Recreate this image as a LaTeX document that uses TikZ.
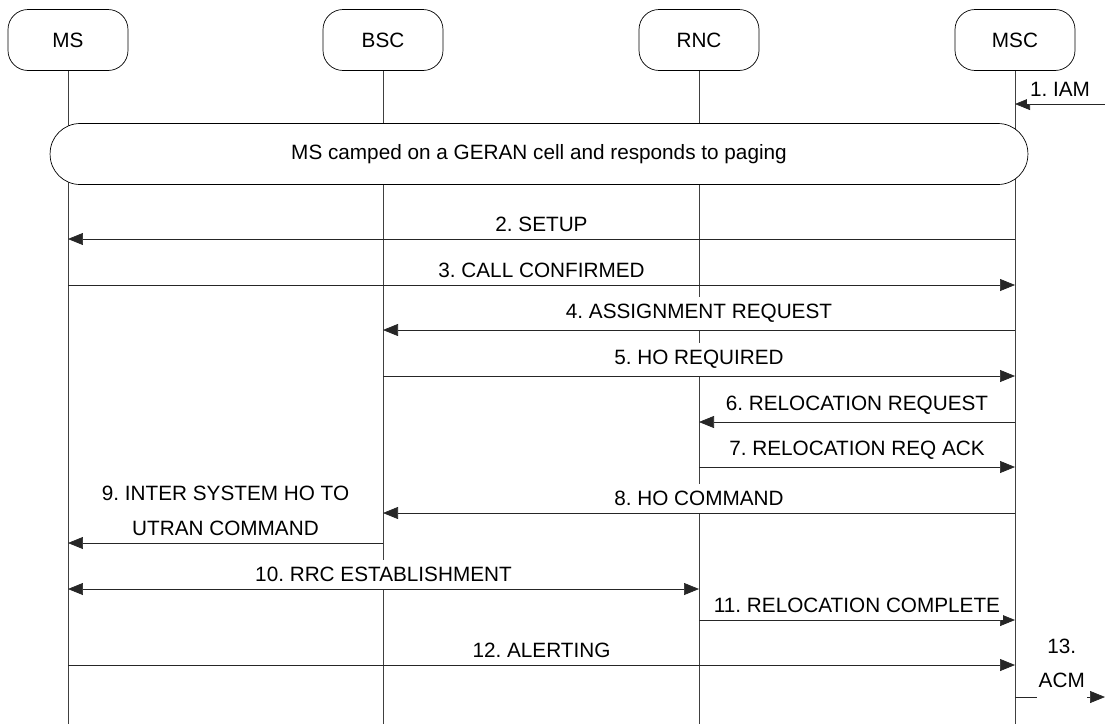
\documentclass[tikz,border=0pt]{standalone}
\usepackage{fontspec}
\setmainfont{Liberation Sans}
\usetikzlibrary{arrows.meta}
\frenchspacing
\tikzstyle{entity} = [rectangle, rounded corners=0.4cm, minimum width=2.4cm, minimum height=1.22cm, text centered, draw=black, fill=white]
\tikzstyle{note} = [rectangle, rounded corners=0.6cm, minimum width=19.56cm, minimum height=1.22cm, text centered, draw=black, fill=white]
\tikzstyle{lifeline} = [draw=black!75]
\tikzstyle{arrow} = [draw=black!85, ->, >={Triangle[length=0.3cm, width=0.24cm]}]
\tikzstyle{msgtext} = [fill=white, inner xsep=1.5pt, inner ysep=4pt, above, align=center, text=black]

\begin{document}
\begin{tikzpicture}[x=0.02cm, y=-0.02cm, font=\fontsize{11.8}{19.6}\selectfont]
\useasboundingbox (0,0) rectangle (1105,724);

%% NODES

\node (ms) [entity] at (68,40) {MS};
\node (bsc) [entity] at (383,40) {BSC};
\node (rnc) [entity] at (699,40) {RNC};
\node (msc) [entity] at (1015,40) {MSC};
\coordinate (bottom) at (0,724);
\coordinate (edge) at (1105,0);

% message rows
\coordinate (m1) at (0,104);
\coordinate (m2) at (0,239);
\coordinate (m3) at (0,285);
\coordinate (m4) at (0,330);
\coordinate (m5) at (0,376);
\coordinate (m6) at (0,422);
\coordinate (m7) at (0,467);
\coordinate (m8) at (0,513);
\coordinate (m9) at (0,543);
\coordinate (m10) at (0,589);
\coordinate (m11) at (0,620);
\coordinate (m12) at (0,665);
\coordinate (m13) at (0,697);

%% LIFELINES

\foreach \n in {ms,bsc,rnc,msc}
  \draw [lifeline] (\n.south) -- (\n.south |- bottom);

\node (camp) [note] at (539,154) {MS camped on a GERAN cell and responds to paging};

%% ARROWS

\draw [arrow] (edge |- m1) -- (msc |- m1) node [msgtext, midway] {1. IAM};
\draw [arrow] (msc |- m2) -- (ms |- m2) node [msgtext, midway] {2. SETUP};
\draw [arrow] (ms |- m3) -- (msc |- m3) node [msgtext, midway] {3. CALL CONFIRMED};
\draw [arrow] (msc |- m4) -- (bsc |- m4) node [msgtext, midway] {4. ASSIGNMENT REQUEST};
\draw [arrow] (bsc |- m5) -- (msc |- m5) node [msgtext, midway] {5. HO REQUIRED};
\draw [arrow] (msc |- m6) -- (rnc |- m6) node [msgtext, midway] {6. RELOCATION REQUEST};
\draw [arrow] (rnc |- m7) -- (msc |- m7) node [msgtext, midway] {7. RELOCATION REQ ACK};
\draw [arrow] (msc |- m8) -- (bsc |- m8) node [msgtext, midway] {8. HO COMMAND};
\draw [arrow] (bsc |- m9) -- (ms |- m9) node [msgtext, midway] {9. INTER SYSTEM HO TO\\UTRAN COMMAND};
\draw [arrow, <->] (ms |- m10) -- (rnc |- m10) node [msgtext, midway] {10. RRC ESTABLISHMENT};
\draw [arrow] (rnc |- m11) -- (msc |- m11) node [msgtext, midway] {11. RELOCATION COMPLETE};
\draw [arrow] (ms |- m12) -- (msc |- m12) node [msgtext, midway] {12. ALERTING};
\draw [arrow] (msc |- m13) -- (edge |- m13) node [msgtext, midway, xshift=1pt, inner xsep=1pt, inner ysep=7pt, yshift=-2pt] {13.\\ACM};

\end{tikzpicture}
\end{document}
